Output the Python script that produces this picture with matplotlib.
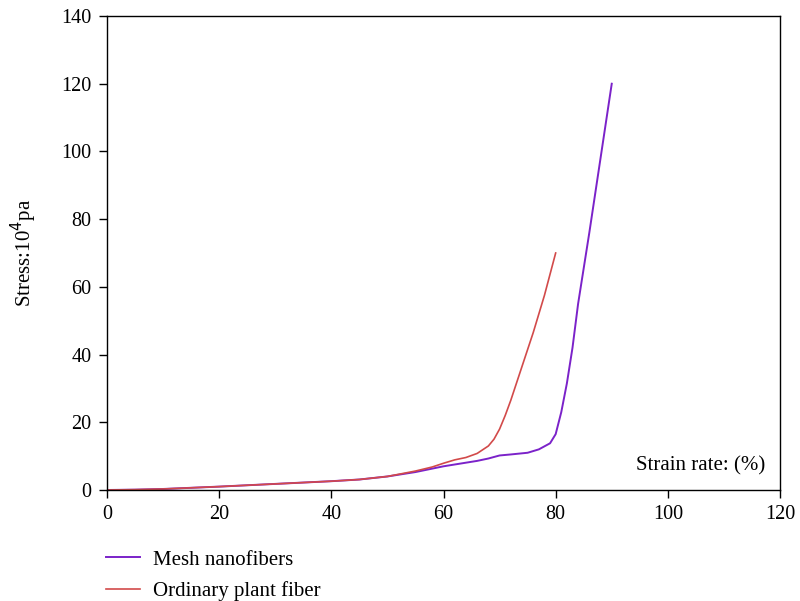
import matplotlib
matplotlib.use("Agg")
import matplotlib.pyplot as plt

plt.rcParams['font.family'] = ['Liberation Serif', 'DejaVu Serif']

mesh_x = [0, 5, 10, 20, 30, 40, 45, 50, 55, 60, 63, 66, 68, 70, 72, 75, 77, 79, 80, 81, 82, 83, 84, 86, 88, 90]
mesh_y = [0, 0.1, 0.3, 1.0, 1.8, 2.6, 3.1, 4.0, 5.3, 7.0, 7.8, 8.6, 9.3, 10.2, 10.5, 11.0, 12.0, 13.8, 16.5, 23, 31.5, 42, 55, 76, 98, 120]
plant_x = [0, 5, 10, 20, 30, 40, 45, 50, 55, 58, 60, 62, 64, 66, 68, 69, 70, 71, 72, 74, 76, 78, 80]
plant_y = [0, 0.1, 0.3, 1.0, 1.8, 2.6, 3.1, 4.0, 5.6, 6.8, 7.9, 8.9, 9.6, 10.8, 13.0, 15.0, 18.0, 22.0, 26.5, 36.5, 46.5, 57.5, 70]

xticks = [0, 20, 40, 60, 80, 100, 120]
yticks = [0, 20, 40, 60, 80, 100, 120, 140]

fig = plt.figure(figsize=(8, 6.01), dpi=100)
ax = fig.add_axes([107/800, 1-490/601, (780-107)/800, (490-16)/601])

l1, = ax.plot(mesh_x, mesh_y, color='#7B22C9', lw=1.4, label='Mesh nanofibers')
l2, = ax.plot(plant_x, plant_y, color='#D24A4A', lw=1.2, label='Ordinary plant fiber')

ax.set_xlim(0, 120)
ax.set_ylim(0, 140)
ax.set_xticks(xticks)
ax.set_yticks(yticks)
ax.tick_params(direction='out', length=6, width=1, labelsize=14.5, colors='black', pad=5)
for s in ax.spines.values():
    s.set_linewidth(1)
ax.set_ylabel('Stress:10$^4$pa', fontsize=15, labelpad=16)
ax.text(0.978, 0.03, 'Strain rate: (%)', transform=ax.transAxes, ha='right', va='bottom', fontsize=15)

fig.legend(handles=[l1, l2], loc='upper left', bbox_to_anchor=(106/800, 1-550/601),
           frameon=False, fontsize=15, handlelength=1.65, handletextpad=0.6, labelspacing=0.55,
           borderpad=0, borderaxespad=0)

fig.savefig('out.png', dpi=100)
